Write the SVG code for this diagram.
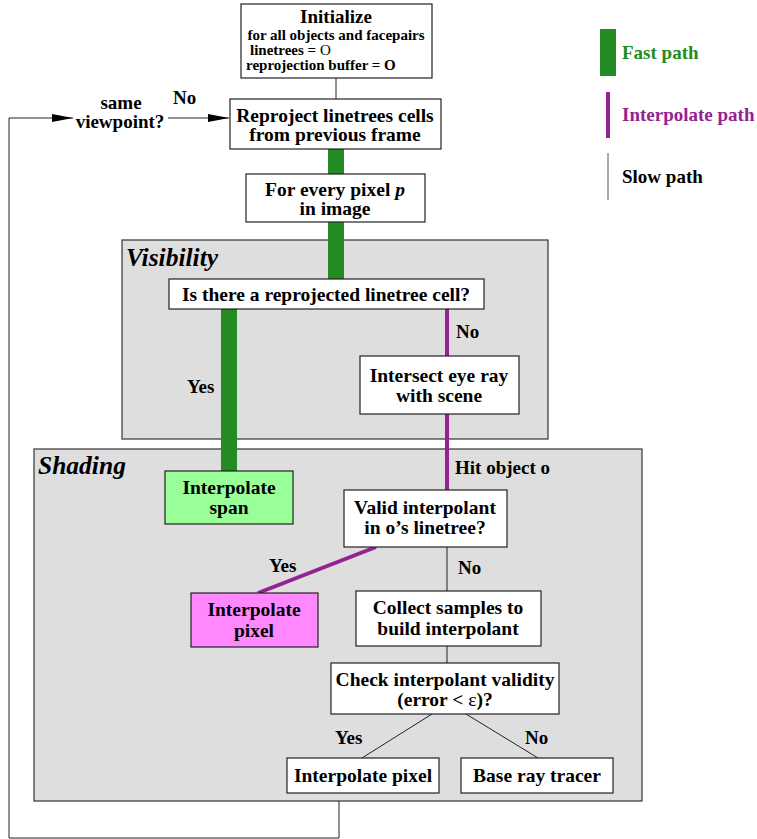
<svg xmlns="http://www.w3.org/2000/svg" width="757" height="839" viewBox="0 0 757 839">
<style>
text{font-family:"Liberation Serif","Times New Roman",serif;font-weight:bold;fill:#000}
.c{text-anchor:middle}
.t17{font-size:19.5px}
.t16{font-size:19px}
.t13{font-size:15px}
.panel{fill:#dedede;stroke:#333;stroke-width:1.2}
.box{fill:#fff;stroke:#222;stroke-width:1.2}
.ptitle{font-size:25.5px;font-style:italic}
.fast{stroke:#228b22;stroke-width:16;fill:none}
.interp{stroke:#922492;stroke-width:4;fill:none}
.slow{stroke:#222;stroke-width:1;fill:none}
</style>
<defs>
<marker id="arr" viewBox="0 0 21 8" refX="21" refY="4" markerWidth="21" markerHeight="8" markerUnits="userSpaceOnUse" orient="auto">
<path d="M0,0 L21,4 L0,8 Z" fill="#000"/>
</marker>
</defs>
<rect width="757" height="839" fill="#fff"/>

<g id="panel-visibility">
<rect class="panel" x="122" y="240" width="426" height="199"/>
<text class="ptitle" x="126" y="266">Visibility</text>
</g>
<g id="panel-shading">
<rect class="panel" x="34" y="449" width="608" height="352"/>
<text class="ptitle" x="38" y="474">Shading</text>
</g>

<g id="connectors">
<line class="slow" x1="336" y1="78" x2="336" y2="99"/>
<line class="fast" x1="336" y1="149" x2="336" y2="174"/>
<line class="fast" x1="336" y1="222" x2="336" y2="279"/>
<line class="fast" x1="229" y1="309" x2="229" y2="471"/>
<line class="interp" x1="447" y1="309" x2="447" y2="356"/>
<line class="interp" x1="447" y1="414" x2="447" y2="490"/>
<line class="interp" x1="376" y1="547" x2="258" y2="593"/>
<line class="slow" x1="447" y1="547" x2="447" y2="591"/>
<line class="slow" x1="447" y1="646" x2="447" y2="663"/>
<line class="slow" x1="432" y1="714" x2="362" y2="758"/>
<line class="slow" x1="466" y1="714" x2="538" y2="758"/>
<polyline class="slow" points="339,801 339,838 9,838 9,118 73,118" marker-end="url(#arr)"/>
<line class="slow" x1="168" y1="118" x2="229" y2="118" marker-end="url(#arr)"/>
<text class="t16" x="173" y="104">No</text>
<text class="c t16" x="121" y="109">same</text>
<text class="c t16" x="120" y="128">viewpoint?</text>
<text class="t16" x="187" y="393">Yes</text>
<text class="t16" x="456" y="338">No</text>
<text class="t16" x="455" y="474">Hit object o</text>
<text class="t16" x="269" y="572">Yes</text>
<text class="t16" x="458" y="574">No</text>
<text class="t16" x="335" y="744">Yes</text>
<text class="t16" x="525" y="744">No</text>
</g>

<g id="n-init">
<rect class="box" x="241" y="4" width="191" height="74"/>
<text class="c t16" x="336" y="23">Initialize</text>
<text class="c t13" x="336" y="40">for all objects and facepairs</text>
<text class="t13" x="250" y="55">linetrees = <tspan font-weight="normal">O</tspan></text>
<text class="t13" x="246" y="70">reprojection buffer = O</text>
</g>
<g id="n-reproject">
<rect class="box" x="230" y="99" width="211" height="50"/>
<text class="c t17" x="335" y="122">Reproject linetrees cells</text>
<text class="c t17" x="335" y="141">from previous frame</text>
</g>
<g id="n-forevery">
<rect class="box" x="246" y="174" width="179" height="48"/>
<text class="c t17" x="335" y="196">For every pixel <tspan font-style="italic">p</tspan></text>
<text class="c t17" x="335" y="215">in image</text>
</g>
<g id="n-isthere">
<rect class="box" x="169" y="279" width="315" height="30"/>
<text class="c t17" x="326" y="301">Is there a reprojected linetree cell?</text>
</g>
<g id="n-intersect">
<rect class="box" x="360" y="356" width="159" height="58"/>
<text class="c t17" x="439" y="382">Intersect eye ray</text>
<text class="c t17" x="439" y="402">with scene</text>
</g>
<g id="n-span">
<rect class="box" x="165" y="471" width="128" height="53" style="fill:#99ff99"/>
<text class="c t17" x="229" y="494">Interpolate</text>
<text class="c t17" x="229" y="514">span</text>
</g>
<g id="n-valid">
<rect class="box" x="344" y="490" width="163" height="57"/>
<text class="c t17" x="425" y="514">Valid interpolant</text>
<text class="c t17" x="425" y="534">in o’s linetree?</text>
</g>
<g id="n-interp-pixel-fast">
<rect class="box" x="191" y="593" width="127" height="54" style="fill:#ff88ff"/>
<text class="c t17" x="254" y="616">Interpolate</text>
<text class="c t17" x="254" y="637">pixel</text>
</g>
<g id="n-collect">
<rect class="box" x="356" y="591" width="185" height="55"/>
<text class="c t17" x="448" y="614">Collect samples to</text>
<text class="c t17" x="448" y="635">build interpolant</text>
</g>
<g id="n-check">
<rect class="box" x="331" y="663" width="228" height="51"/>
<text class="c t17" x="445" y="686">Check interpolant validity</text>
<text class="c t17" x="445" y="706">(error &lt; <tspan font-weight="normal">ε</tspan>)?</text>
</g>
<g id="n-interp-pixel">
<rect class="box" x="287" y="758" width="152" height="35"/>
<text class="c t17" x="363" y="782">Interpolate  pixel</text>
</g>
<g id="n-base">
<rect class="box" x="461" y="758" width="152" height="35"/>
<text class="c t17" x="537" y="782">Base ray tracer</text>
</g>

<g id="legend">
<rect x="600" y="29" width="16" height="47" fill="#228b22"/>
<text class="t16" x="622" y="59" style="fill:#228b22">Fast path</text>
<rect x="606" y="92" width="4" height="46" fill="#922492"/>
<text class="t16" x="622" y="121" style="fill:#922492">Interpolate path</text>
<line x1="608" y1="153" x2="608" y2="200" stroke="#555" stroke-width="1"/>
<text class="t16" x="622" y="183">Slow path</text>
</g>
</svg>
